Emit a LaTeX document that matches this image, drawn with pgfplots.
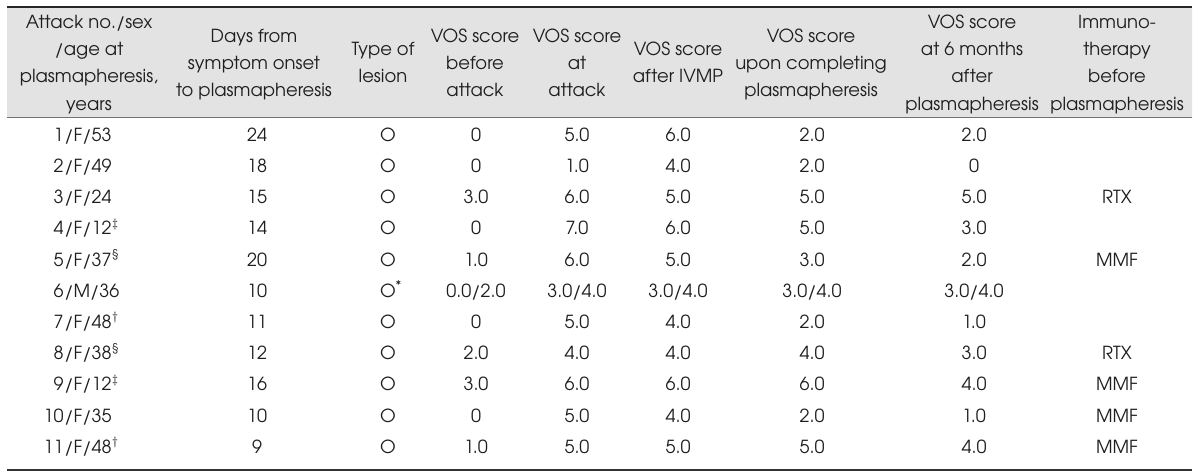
\documentclass[border=0pt]{standalone}
\usepackage{fontspec}
\setmainfont{TeX Gyre Adventor}
\usepackage{pgfplots}
\pgfplotsset{compat=1.18}
\definecolor{txt}{HTML}{1E1E1E}
\definecolor{band}{HTML}{E3E3E3}

\pgfplotsset{
  cell/.style={only marks, mark=*, mark size=0pt,
    nodes near coords, point meta=explicit symbolic,
    nodes near coords style={anchor=#1, inner sep=0pt, text=txt,
      font=\fontsize{9}{11}\selectfont, text height=1.45ex, text depth=.3ex}},
  cell/.default=center,
}

\begin{document}
\begin{tikzpicture}
\begin{axis}[
  width=600pt, height=235.5pt, scale only axis,
  xmin=0, xmax=1200, ymin=0, ymax=471, y dir=reverse,
  hide axis, clip=false,
]
% header band and rules
\addplot[fill=band, draw=none] coordinates {(7,8) (1192,8) (1192,117) (7,117) (7,8)};
\addplot[draw=black!85, line width=1pt] coordinates {(7,7) (1192,7)};
\addplot[draw=black!55, line width=0.6pt] coordinates {(7,117.5) (1192,117.5)};
\addplot[draw=black!80, line width=1pt] coordinates {(7,469.5) (1192,469.5)};

% header text
\addplot[cell] table[col sep=semicolon, meta=t] {
x;y;t
89;22;Attack no./sex
89;49;/age at
89;76;plasmapheresis,
89;104;years
254;36;Days from
254;63;symptom onset
254;90;to plasmapheresis
383;49.5;Type of
383;76.5;lesion
475;36;VOS score
475;63;before
475;90;attack
577;36;VOS score
577;63;at
577;90;attack
678;49.5;VOS score
678;76.5;after IVMP
811;36;VOS score
811;63;upon completing
811;90;plasmapheresis
972;22;VOS score
972;49;at 6 months
972;76;after
972;104;plasmapheresis
1117;22;Immuno-
1117;49;therapy
1117;76;before
1117;104;plasmapheresis
};

% attack number (right aligned) and sex/age (left aligned)
\addplot[cell=east] table[col sep=semicolon, meta=t] {
x;y;t
64;135;1
64;166.2;2
64;197.4;3
64;228.6;4
64;259.8;5
64;291;6
64;322.2;7
64;353.4;8
64;384.6;9
64;415.8;10
64;447;11
};
\addplot[cell=west] table[col sep=semicolon, meta=t] {
x;y;t
64;135;/F/53
64;166.2;/F/49
64;197.4;/F/24
64;228.6;/F/12\textsuperscript{$\ddagger$}
64;259.8;/F/37\textsuperscript{§}
64;291;/M/36
64;322.2;/F/48\textsuperscript{$\dagger$}
64;353.4;/F/38\textsuperscript{§}
64;384.6;/F/12\textsuperscript{$\ddagger$}
64;415.8;/F/35
64;447;/F/48\textsuperscript{$\dagger$}
};

% days from onset
\addplot[cell] table[col sep=semicolon, meta=t] {
x;y;t
257;135;24
257;166.2;18
257;197.4;15
257;228.6;14
257;259.8;20
257;291;10
257;322.2;11
257;353.4;12
257;384.6;16
257;415.8;10
257;447;9
};

% type of lesion
\addplot[cell] table[col sep=semicolon, meta=t] {
x;y;t
388;135;O
388;166.2;O
388;197.4;O
388;228.6;O
388;259.8;O
388;291;O\rlap{\textsuperscript{*}}
388;322.2;O
388;353.4;O
388;384.6;O
388;415.8;O
388;447;O
};

% VOS before attack
\addplot[cell] table[col sep=semicolon, meta=t] {
x;y;t
476;135;0
476;166.2;0
476;197.4;3.0
476;228.6;0
476;259.8;1.0
476;291;0.0/2.0
476;322.2;0
476;353.4;2.0
476;384.6;3.0
476;415.8;0
476;447;1.0
};

% VOS at attack
\addplot[cell] table[col sep=semicolon, meta=t] {
x;y;t
577;135;5.0
577;166.2;1.0
577;197.4;6.0
577;228.6;7.0
577;259.8;6.0
577;291;3.0/4.0
577;322.2;5.0
577;353.4;4.0
577;384.6;6.0
577;415.8;5.0
577;447;5.0
};

% VOS after IVMP
\addplot[cell] table[col sep=semicolon, meta=t] {
x;y;t
678;135;6.0
678;166.2;4.0
678;197.4;5.0
678;228.6;6.0
678;259.8;5.0
678;291;3.0/4.0
678;322.2;4.0
678;353.4;4.0
678;384.6;6.0
678;415.8;4.0
678;447;5.0
};

% VOS upon completing plasmapheresis
\addplot[cell] table[col sep=semicolon, meta=t] {
x;y;t
812;135;2.0
812;166.2;2.0
812;197.4;5.0
812;228.6;5.0
812;259.8;3.0
812;291;3.0/4.0
812;322.2;2.0
812;353.4;4.0
812;384.6;6.0
812;415.8;2.0
812;447;5.0
};

% VOS at 6 months
\addplot[cell] table[col sep=semicolon, meta=t] {
x;y;t
974;135;2.0
974;166.2;0
974;197.4;5.0
974;228.6;3.0
974;259.8;2.0
974;291;3.0/4.0
974;322.2;1.0
974;353.4;3.0
974;384.6;4.0
974;415.8;1.0
974;447;4.0
};

% immunotherapy
\addplot[cell] table[col sep=semicolon, meta=t] {
x;y;t
1117;197.4;RTX
1117;259.8;MMF
1117;353.4;RTX
1117;384.6;MMF
1117;415.8;MMF
1117;447;MMF
};
\end{axis}
\pgfresetboundingbox
\path (current axis.south west) rectangle (current axis.north east);
\end{tikzpicture}
\end{document}
